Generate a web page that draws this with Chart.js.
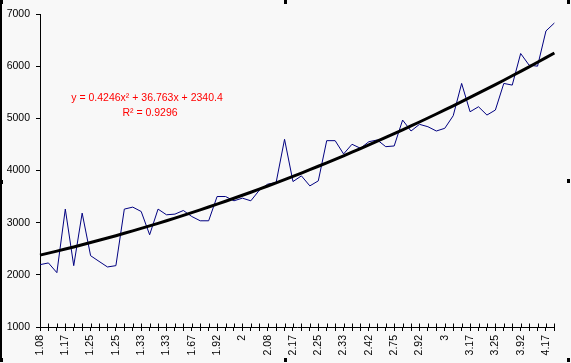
<!DOCTYPE html>
<html>
<head>
<meta charset="utf-8">
<script src="https://cdn.jsdelivr.net/npm/chart.js@4.4.0/dist/chart.umd.min.js"></script>
<style>
  html, body { margin: 0; padding: 0; background: #f8f8f8; }
  #wrap { width: 571px; height: 363px; position: relative; }
</style>
</head>
<body>
<div id="wrap"><canvas id="c" width="571" height="363"></canvas></div>
<script>
// ---- data ----
const tickLabels = ['1.08','1.17','1.25','1.25','1.33','1.33','1.67','1.92','2','2.08','2.17',
                    '2.25','2.33','2.42','2.75','2.92','3','3.17','3.25','3.92','4.17'];
const labelEvery = 3;
const values = [2195,2228,2042,3260,2176,3183,2367,2258,2151,2176,
                3260,3298,3214,2768,3260,3151,3164,3233,3118,3036,
                3036,3501,3501,3419,3470,3419,3620,3738,3769,4598,
                3788,3897,3705,3801,4572,4572,4317,4503,4426,4552,
                4585,4457,4470,4967,4757,4885,4839,4757,4809,5050,
                5669,5126,5222,5063,5159,5669,5637,6243,6019,6000,
                6675,6828];
// trendline shown in the chart: y = 0.4246x^2 + 36.763x + 2340.4
const trendCoeffs = [0.4246, 36.763, 2340.4];
const equationLines = ['y = 0.4246x\u00B2 + 36.763x + 2340.4', 'R\u00B2 = 0.9296'];
const yTicks = [1000, 2000, 3000, 4000, 5000, 6000, 7000];

const categories = values.map((v, i) => (i % labelEvery === 0 && tickLabels[i / labelEvery] !== undefined) ? tickLabels[i / labelEvery] : '');
const trend = values.map((v, i) => { const x = i + 1; return trendCoeffs[0]*x*x + trendCoeffs[1]*x + trendCoeffs[2]; });

const FONT = 'Liberation Sans, Arial, sans-serif';

const decor = {
  id: 'decor',
  beforeDraw(chart) {
    const ctx = chart.ctx;
    ctx.save();
    ctx.fillStyle = '#f8f8f8';
    ctx.fillRect(0, 0, chart.width, chart.height);
    ctx.restore();
  },
  afterDraw(chart) {
    const ctx = chart.ctx;
    const xs = chart.scales.x;
    ctx.save();
    // cross tick marks above the x axis
    ctx.strokeStyle = '#000';
    ctx.lineWidth = 1;
    const yb = Math.round(xs.top) + 0.5;
    for (let i = 0; i < values.length; i++) {
      const px = Math.round(xs.getPixelForValue(i)) + 0.5;
      ctx.beginPath(); ctx.moveTo(px, yb - 4); ctx.lineTo(px, yb); ctx.stroke();
    }
    // equation text
    ctx.fillStyle = '#ff0000';
    ctx.font = '10.5px ' + FONT;
    ctx.textAlign = 'center';
    ctx.textBaseline = 'middle';
    ctx.fillText(equationLines[0], 147, 98);
    ctx.fillText(equationLines[1], 150, 113);
    // selection border & handles
    ctx.fillStyle = '#000';
    ctx.fillRect(0, 2, 2, 358);
    const handles = [[0,0],[284,0],[567,0],[0,180],[567,179],[0,358],[284,358],[567,358]];
    handles.forEach(h => ctx.fillRect(h[0], h[1], 3, 4));
    ctx.restore();
  }
};

new Chart(document.getElementById('c'), {
  type: 'line',
  data: {
    labels: categories,
    datasets: [
      { label: 'trend', data: trend, borderColor: '#000000', borderWidth: 3, pointRadius: 0, tension: 0, order: 0 },
      { label: 'series', data: values, borderColor: '#000080', borderWidth: 1, pointRadius: 0, tension: 0, order: 1 }
    ]
  },
  options: {
    responsive: false,
    animation: false,
    events: [],
    layout: { padding: { top: 14, right: 14, left: 0, bottom: 0 } },
    plugins: { legend: { display: false }, tooltip: { enabled: false } },
    scales: {
      x: {
        type: 'category',
        offset: false,
        afterFit(s) { s.height = 36; },
        grid: { display: true, drawOnChartArea: false, drawTicks: true, tickLength: 4, color: '#000' },
        border: { display: true, color: '#000', width: 1 },
        ticks: {
          autoSkip: false, maxRotation: 90, minRotation: 90, padding: 4,
          color: '#000', font: { family: FONT, size: 10.5 },
          callback(v, i) { return categories[i]; }
        }
      },
      y: {
        min: 1000, max: 7000,
        afterFit(s) { s.width = 40; },
        afterBuildTicks(s) { s.ticks = yTicks.map(v => ({ value: v })); },
        grid: { display: true, drawOnChartArea: false, drawTicks: true, tickLength: 4, color: '#000' },
        border: { display: true, color: '#000', width: 1 },
        ticks: { padding: 6, color: '#000', font: { family: FONT, size: 10.5 }, callback(v) { return String(v); } }
      }
    }
  },
  plugins: [decor]
});
</script>
</body>
</html>
